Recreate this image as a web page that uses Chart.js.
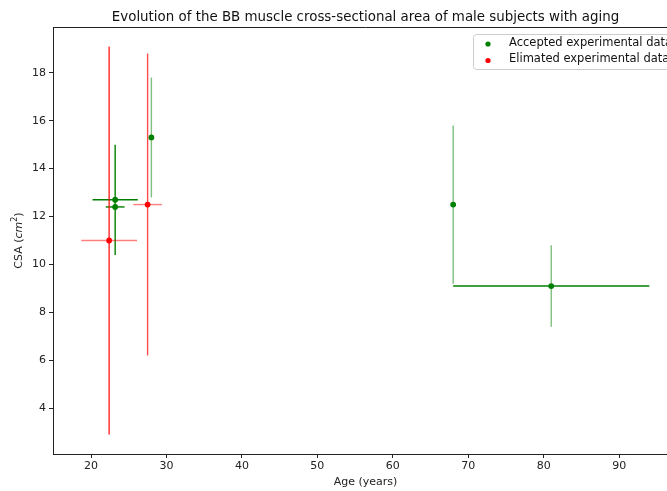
<!DOCTYPE html>
<html lang="en">
<head>
    <meta charset="UTF-8">
    <title>BB muscle CSA vs age</title>
    <script src="https://cdn.jsdelivr.net/npm/chart.js"></script>
    <style>
        body {
            margin: 0;
            overflow: hidden;
            background: white;
        }
    </style>
</head>
<body>
    <canvas id="mycanvas" width="700" height="491"></canvas>

    <script type="text/javascript">
        // data
        const acceptedAge    = [23.2, 23.2, 28.0, 68.0, 81.0];
        const acceptedCsa    = [12.7, 12.4, 15.3, 12.5, 9.1];
        const acceptedAgeErr = [3.0, 1.25, 0, 0, 13.0];
        const acceptedCsaErr = [2.3, 0, 2.5, 3.3, 1.7];

        const rejectedAge    = [22.4, 27.5];
        const rejectedCsa    = [11.0, 12.5];
        const rejectedAgeErr = [3.7, 1.9];
        const rejectedCsaErr = [8.1, 6.3];

        const xTicks = [20, 30, 40, 50, 60, 70, 80, 90];
        const yTicks = [4, 6, 8, 10, 12, 14, 16, 18];

        // opacity of each error bar (x, y) as in the original
        const barAlpha = [
            { x: [1, 1, 1, 1, 1], y: [1, 1, 0.5, 0.5, 0.5] },
            { x: [0.5, 0.5], y: [0.85, 0.7] }
        ];

        const FONT = 'DejaVu Sans';

        const errorBars = {
            id: 'errorBars',
            beforeDatasetsDraw(chart) {
                const ctx = chart.ctx;
                const xs = chart.scales.x, ys = chart.scales.y;
                ctx.save();
                chart.data.datasets.forEach((ds, di) => {
                    ds.data.forEach((p, i) => {
                        ctx.strokeStyle = ds.borderColor;
                        ctx.lineWidth = 1.4;
                        if (ds.xErr[i] > 0) {
                            ctx.globalAlpha = barAlpha[di].x[i];
                            ctx.beginPath();
                            ctx.moveTo(xs.getPixelForValue(p.x - ds.xErr[i]), ys.getPixelForValue(p.y));
                            ctx.lineTo(xs.getPixelForValue(p.x + ds.xErr[i]), ys.getPixelForValue(p.y));
                            ctx.stroke();
                        }
                        if (ds.yErr[i] > 0) {
                            ctx.globalAlpha = barAlpha[di].y[i];
                            ctx.beginPath();
                            ctx.moveTo(xs.getPixelForValue(p.x), ys.getPixelForValue(p.y - ds.yErr[i]));
                            ctx.lineTo(xs.getPixelForValue(p.x), ys.getPixelForValue(p.y + ds.yErr[i]));
                            ctx.stroke();
                        }
                    });
                });
                ctx.restore();
            }
        };

        // title, top spine, y label with italic unit and the framed legend
        const decorations = {
            id: 'decorations',
            afterDraw(chart) {
                const ctx = chart.ctx;
                const a = chart.chartArea;
                ctx.save();
                ctx.strokeStyle = '#222';
                ctx.lineWidth = 1;
                ctx.beginPath();
                ctx.moveTo(a.left, a.top + 0.5);
                ctx.lineTo(a.right, a.top + 0.5);
                ctx.stroke();

                ctx.fillStyle = '#111';
                ctx.font = '13.4px ' + FONT;
                ctx.textAlign = 'center';
                ctx.textBaseline = 'alphabetic';
                ctx.fillText('Evolution of the BB muscle cross-sectional area of male subjects with aging', (a.left + a.right) / 2, 21);

                // y axis label: CSA (cm^2)
                const normal = '11px ' + FONT, italic = 'italic 11px ' + FONT, small = '8px ' + FONT;
                const parts = [['CSA (', normal, 0], ['cm', italic, 0], ['2', small, -5], [')', normal, 0]];
                let total = 0;
                parts.forEach(p => { ctx.font = p[1]; total += ctx.measureText(p[0]).width; });
                ctx.translate(22, (a.top + a.bottom) / 2);
                ctx.rotate(-Math.PI / 2);
                ctx.textAlign = 'left';
                ctx.fillStyle = '#222';
                let cx = -total / 2;
                parts.forEach(p => {
                    ctx.font = p[1];
                    ctx.fillText(p[0], cx, p[2]);
                    cx += ctx.measureText(p[0]).width;
                });
                ctx.setTransform(1, 0, 0, 1, 0, 0);

                // legend box
                const lx = a.right - 205, ly = a.top + 7;
                ctx.fillStyle = 'rgba(255,255,255,0.8)';
                ctx.strokeStyle = '#ccc';
                ctx.beginPath();
                ctx.roundRect(lx + 0.5, ly + 0.5, 204, 35, 3);
                ctx.fill();
                ctx.stroke();
                ctx.font = '11.5px ' + FONT;
                ctx.textAlign = 'left';
                ctx.textBaseline = 'middle';
                chart.data.datasets.forEach((ds, i) => {
                    const yy = ly + 9 + i * 16.5;
                    ctx.fillStyle = ds.backgroundColor;
                    ctx.beginPath();
                    ctx.arc(lx + 15, yy + 1, 2.6, 0, Math.PI * 2);
                    ctx.fill();
                    ctx.fillStyle = '#111';
                    ctx.fillText(ds.label, lx + 36, yy);
                });
                ctx.restore();
            }
        };

        const accepted = acceptedAge.map((v, i) => ({ x: v, y: acceptedCsa[i] }));
        const rejected = rejectedAge.map((v, i) => ({ x: v, y: rejectedCsa[i] }));

        const ctx = document.getElementById('mycanvas').getContext('2d');

        new Chart(ctx, {
            type: 'scatter',
            data: {
                datasets: [
                    {
                        label: 'Accepted experimental data',
                        data: accepted,
                        xErr: acceptedAgeErr,
                        yErr: acceptedCsaErr,
                        backgroundColor: 'green',
                        borderColor: 'green',
                        pointRadius: 2.9,
                        pointBorderWidth: 0
                    },
                    {
                        label: 'Elimated experimental data',
                        data: rejected,
                        xErr: rejectedAgeErr,
                        yErr: rejectedCsaErr,
                        backgroundColor: 'red',
                        borderColor: 'red',
                        pointRadius: 2.9,
                        pointBorderWidth: 0
                    }
                ]
            },
            options: {
                responsive: false,
                animation: false,
                layout: { padding: { top: 27, right: 22, left: 0, bottom: 0 } },
                plugins: {
                    legend: { display: false },
                    tooltip: { enabled: false }
                },
                scales: {
                    x: {
                        type: 'linear',
                        min: 14.96,
                        max: 97.8,
                        afterBuildTicks: s => { s.ticks = xTicks.map(v => ({ value: v })); },
                        afterFit: s => { s.height = 37; },
                        border: { color: '#222', width: 1 },
                        grid: { drawOnChartArea: false, tickLength: 4, color: '#222' },
                        ticks: { color: '#222', padding: 2, font: { family: FONT, size: 11 } },
                        title: { display: true, text: 'Age (years)', color: '#222', padding: { top: 0, bottom: 2 }, font: { family: FONT, size: 11 } }
                    },
                    y: {
                        min: 2.09,
                        max: 19.91,
                        afterBuildTicks: s => { s.ticks = yTicks.map(v => ({ value: v })); },
                        afterFit: s => { s.width = 53; },
                        border: { color: '#222', width: 1 },
                        grid: { drawOnChartArea: false, tickLength: 4, color: '#222' },
                        ticks: { color: '#222', padding: 3, font: { family: FONT, size: 11 } }
                    }
                }
            },
            plugins: [errorBars, decorations]
        });
    </script>
</body>
</html>
